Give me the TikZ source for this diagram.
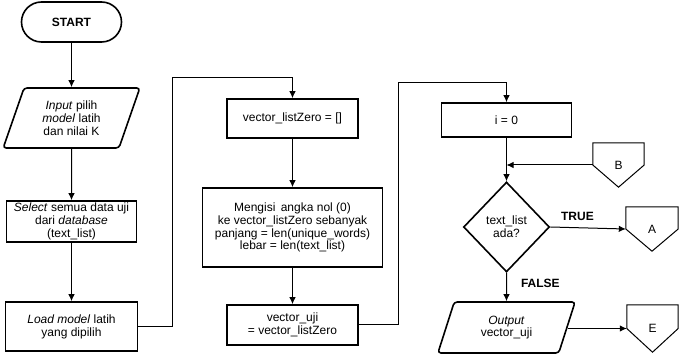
\documentclass[tikz,border=0pt]{standalone}
\usepackage{fontspec}
\setmainfont{Liberation Sans}
\usetikzlibrary{shapes.geometric,arrows.meta}

\tikzset{
  txt/.style={font=\fontsize{12}{12.8}\selectfont, align=center, inner sep=1pt},
  box/.style={txt, draw, line width=1.6pt},
  term/.style={box, rounded corners=20pt, minimum width=100pt, minimum height=40pt},
  io/.style={box, trapezium, trapezium stretches=true, rounded corners=3pt},
  cond/.style={box, diamond, minimum width=86pt, minimum height=90pt, inner sep=0pt},
  offpage/.style={txt},
  link/.style={line width=1pt},
  lbl/.style={txt, font=\fontsize{12}{12.8}\selectfont\bfseries}
}

\begin{document}
\begin{tikzpicture}[x=1pt, y=-1pt, >={Latex[length=7pt,width=6.5pt]}]
  \useasboundingbox (0,0) rectangle (680,355);

  % first column
  \node[term] (start) at (71.5,22) {\textbf{START}};
  \node[io, trapezium left angle=70, trapezium right angle=110, minimum width=137pt, minimum height=60pt] (input) at (71.5,118) {\textit{Input} pilih\\\textit{model} latih\\dan nilai K};
  \node[box, minimum width=130pt, minimum height=41pt] (select) at (71.5,221.5) {\textit{Select} semua data uji\\dari \textit{database}\\(text\_list)};
  \node[box, minimum width=132pt, minimum height=49pt] (load) at (71.5,326.5) {\textit{Load model} latih\\yang dipilih};

  % second column
  \node[box, minimum width=131pt, minimum height=39pt] (vzero) at (292.5,118.5) {vector\_listZero = []};
  \node[box, minimum width=180pt, minimum height=79pt] (isi) at (292.5,227.5) {Mengisi\, angka nol (0)\\ke vector\_listZero sebanyak\\panjang = len(unique\_words)\\lebar = len(text\_list)};
  \node[box, minimum width=131pt, minimum height=40pt] (vuji) at (292.5,325) {vector\_uji\\= vector\_listZero};

  % third column
  \node[box, minimum width=130pt, minimum height=34pt] (inol) at (506.5,120) {i = 0};
  \node[cond] (ada) at (506.5,227) {text\_list\\ada?};
  \node[io, trapezium left angle=72, trapezium right angle=108, minimum width=138pt, minimum height=51pt] (output) at (506.5,327.5) {\textit{Output}\\vector\_uji};

  % off-page connectors
  \node[offpage, minimum width=51pt, minimum height=44pt] (B) at (618.5,165) {B};
  \node[offpage, minimum width=52pt, minimum height=44pt] (A) at (652,229) {A};
  \node[offpage, minimum width=51pt, minimum height=47pt] (E) at (652.5,328.5) {E};
  \foreach \c in {B,A,E}
    \draw[line width=1pt] (\c.north west) -- (\c.north east) -- (\c.east) -- (\c.south) -- (\c.west) -- cycle;

  \coordinate (j1) at (172,78);
  \coordinate (j2) at (398,83);

  \draw[link,->] (start) -- (input);
  \draw[link,->] (input) -- (select);
  \draw[link,->] (select) -- (load);
  \draw[link,->] (load.east) -| (j1) -| (vzero.north);
  \draw[link,->] (vzero) -- (isi);
  \draw[link,->] (isi) -- (vuji);
  \draw[link,->] (vuji.east) -| (j2) -| (inol.north);
  \draw[link,->] (inol) -- (ada);
  \draw[link,->] (B.west) -- (B.west -| ada.north);
  \draw[link,->] (ada.east) -- node[lbl, above, pos=0.36, yshift=6pt] {TRUE} (A.west);
  \draw[link,->] (ada.south) -- node[lbl, right, pos=0.37, xshift=13pt] {FALSE} (output.north);
  \draw[link,->] (output.east |- E.west) -- (E.west);
\end{tikzpicture}
\end{document}
